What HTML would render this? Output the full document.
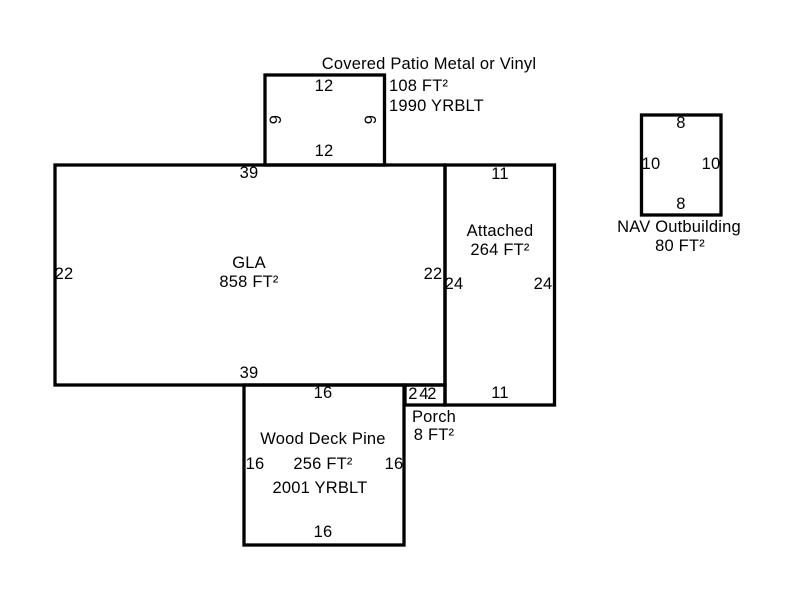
<!DOCTYPE html>
<html><head><meta charset="utf-8"><style>
html,body{margin:0;padding:0;background:#fff}
svg{display:block}
text{font-family:"Liberation Sans",Arial,sans-serif;font-size:16.5px;letter-spacing:.2px;fill:#000;text-anchor:middle}
rect{fill:none;stroke:#000;stroke-width:3.3}
</style></head><body>
<svg width="800" height="600" viewBox="0 0 800 600" xmlns="http://www.w3.org/2000/svg">
<rect x="265" y="75" width="119.500" height="90"/>
<rect x="55" y="165" width="390" height="220"/>
<rect x="445" y="165" width="109.500" height="240"/>
<rect x="244" y="385" width="160" height="160"/>
<rect x="405" y="385" width="40" height="20"/>
<rect x="641.500" y="115" width="79.500" height="100"/>

<text x="429" y="69">Covered Patio Metal or Vinyl</text>
<text x="389" y="91" style="text-anchor:start">108 FT²</text>
<text x="389" y="111" style="text-anchor:start">1990 YRBLT</text>
<text x="324" y="91">12</text>
<text x="324" y="156">12</text>
<text transform="translate(281,119.500) rotate(-90)" x="0" y="0">9</text>
<text transform="translate(376,119.500) rotate(-90)" x="0" y="0">9</text>

<text x="249" y="178">39</text>
<text x="249" y="378">39</text>
<text x="64" y="279">22</text>
<text x="433" y="279">22</text>
<text x="249" y="268">GLA</text>
<text x="249" y="287">858 FT²</text>

<text x="500" y="179">11</text>
<text x="500" y="398">11</text>
<text x="454" y="289">24</text>
<text x="543" y="289">24</text>
<text x="500" y="236">Attached</text>
<text x="500" y="255">264 FT²</text>

<text x="323" y="398">16</text>
<text x="323" y="537">16</text>
<text x="255" y="469">16</text>
<text x="394" y="469">16</text>
<text x="323" y="444">Wood Deck Pine</text>
<text x="323" y="469">256 FT²</text>
<text x="320" y="493">2001 YRBLT</text>

<text x="413" y="399">2</text>
<text x="424" y="399">4</text>
<text x="432" y="399">2</text>
<text x="434" y="422">Porch</text>
<text x="434" y="440">8 FT²</text>

<text x="681" y="128">8</text>
<text x="681" y="209">8</text>
<text x="651" y="169">10</text>
<text x="711" y="169">10</text>
<text x="679" y="232">NAV Outbuilding</text>
<text x="680" y="251">80 FT²</text>
</svg>
</body></html>
